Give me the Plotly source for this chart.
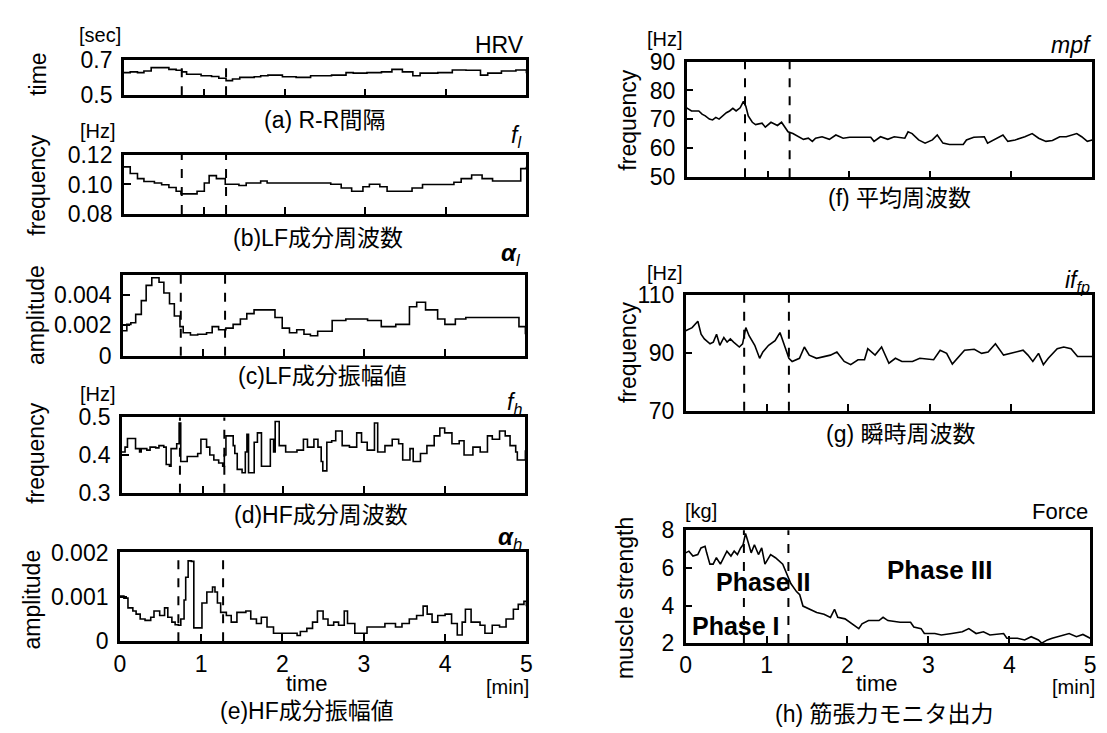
import plotly.graph_objects as go

W, H = 1107, 733
FONT = "Liberation Sans, Arial, Noto Sans CJK JP, sans-serif"

# ---------------- data (time in minutes) ----------------
t_a = [0,0.08,0.17,0.25,0.34,0.47,0.56,0.65,0.72,0.78,0.96,1.09,1.18,1.27,1.35,1.44,1.62,1.70,1.79,1.97,
       2.14,2.32,2.58,2.76,2.85,3.02,3.20,3.33,3.46,3.59,3.68,3.90,4.08,4.25,4.43,4.52,4.69,4.87,5.0]
rr_a = [0.627,0.631,0.627,0.636,0.655,0.655,0.645,0.640,0.631,0.618,0.609,0.605,0.595,0.582,0.591,0.600,0.604,0.609,0.613,0.604,
        0.600,0.609,0.613,0.627,0.624,0.627,0.631,0.645,0.631,0.609,0.624,0.627,0.642,0.640,0.613,0.624,0.636,0.642,0.624]

t_b = [0,0.08,0.17,0.25,0.38,0.47,0.56,0.65,0.71,0.82,0.91,1.0,1.06,1.15,1.26,1.43,1.52,1.70,1.78,2.05,
       2.57,2.70,2.83,2.97,3.05,3.18,3.27,3.49,3.58,3.71,4.10,4.19,4.32,4.45,4.58,4.85,4.93,5.0]
lf_freq = [0.112,0.1075,0.104,0.102,0.101,0.0998,0.098,0.0954,0.0936,0.0936,0.0954,0.101,0.106,0.104,0.1002,0.0993,0.101,0.1024,0.101,0.101,
           0.1002,0.0976,0.0954,0.0985,0.1002,0.0985,0.0954,0.0954,0.0976,0.100,0.1015,0.104,0.1064,0.104,0.1024,0.1024,0.1108,0.112]

t_c = [0,0.05,0.10,0.16,0.23,0.29,0.36,0.40,0.45,0.51,0.58,0.64,0.71,0.75,0.84,0.93,1.04,1.11,1.19,1.28,
       1.37,1.46,1.54,1.63,1.81,1.89,1.98,2.07,2.16,2.25,2.33,2.42,2.60,2.77,3.04,3.21,3.39,3.56,3.65,3.76,
       3.91,4.0,4.13,4.26,4.83,4.92,5.0]
lf_amp = [0.00163,0.00205,0.00215,0.0027,0.0036,0.0046,0.0051,0.0051,0.0048,0.0041,
          0.0034,0.0026,0.0019,0.0015,0.00135,0.0014,0.0015,0.0019,0.0017,0.0018,
          0.00205,0.0024,0.00275,0.0030,0.0030,0.0025,0.0018,0.0015,0.0017,0.0014,
          0.0013,0.0016,0.0023,0.0024,0.0023,0.0019,0.00205,0.0032,0.0035,0.0030,
          0.0024,0.00205,0.0024,0.0025,0.0025,0.0019,0.0014]

t_d = [0.00,0.04,0.07,0.15,0.17,0.22,0.24,0.31,0.35,0.42,0.46,0.52,0.55,0.59,0.61,0.68,0.71,0.73,0.81,0.94,
       0.98,1.05,1.09,1.14,1.20,1.25,1.27,1.29,1.38,1.40,1.43,1.49,1.53,1.55,1.57,1.64,1.68,1.73,1.82,1.84,
       1.88,1.90,1.95,2.03,2.17,2.25,2.30,2.38,2.43,2.47,2.49,2.54,2.60,2.65,2.73,2.82,2.91,2.97,3.04,3.13,
       3.17,3.26,3.35,3.43,3.48,3.57,3.61,3.70,3.78,3.87,3.94,4.00,4.09,4.18,4.24,4.35,4.44,4.53,4.59,4.68,
       4.75,4.81,4.88,4.90,4.97,5.0]
hf_freq = [0.408,0.421,0.444,0.444,0.417,0.408,0.417,0.413,0.421,0.419,0.425,0.421,0.375,0.370,0.417,0.430,0.485,0.383,0.396,0.404,
           0.442,0.421,0.400,0.387,0.379,0.370,0.400,0.451,0.425,0.404,0.362,0.353,0.408,0.455,0.353,0.434,0.459,0.370,0.370,0.442,
           0.408,0.489,0.425,0.408,0.413,0.442,0.421,0.442,0.421,0.383,0.358,0.434,0.438,0.464,0.425,0.421,0.459,0.434,0.413,0.485,
           0.408,0.425,0.442,0.430,0.387,0.417,0.383,0.404,0.425,0.451,0.472,0.459,0.430,0.438,0.400,0.421,0.408,0.451,0.442,0.464,
           0.451,0.425,0.408,0.387,0.387,0.413]

t_e = [0,0.05,0.10,0.16,0.20,0.25,0.31,0.38,0.42,0.49,0.55,0.59,0.64,0.68,0.72,0.75,0.79,0.81,0.84,0.88,
       0.91,0.96,1.01,1.07,1.14,1.17,1.20,1.24,1.31,1.37,1.44,1.55,1.61,1.68,1.74,1.81,1.89,2.13,2.18,2.22,
       2.30,2.37,2.43,2.50,2.56,2.63,2.69,2.76,2.80,2.89,3.04,3.26,3.39,3.47,3.56,3.65,3.73,3.78,3.84,3.91,
       4.00,4.08,4.15,4.21,4.25,4.32,4.43,4.49,4.58,4.67,4.75,4.84,4.90,4.97,5.0]
hf_amp = [0.00102,0.00097,0.00075,0.00068,0.00061,0.0005,0.00047,0.00054,0.00068,0.00058,
          0.00075,0.00054,0.00043,0.00037,0.00036,0.0005,0.00093,0.00144,0.00181,0.0018,
          0.0003,0.0003,0.00086,0.00111,0.00122,0.00111,0.00086,0.00065,0.00058,0.00043,
          0.00065,0.00068,0.0005,0.0004,0.00054,0.00032,0.00018,0.00018,0.00013,0.00022,
          0.00029,0.00043,0.00068,0.0005,0.00036,0.00043,0.00036,0.00068,0.0004,0.00018,
          0.00032,0.0004,0.00032,0.0004,0.0005,0.00058,0.00079,0.00061,0.00043,0.00058,
          0.00061,0.0004,0.00014,0.00043,0.00072,0.00043,0.00036,0.00018,0.00036,0.00032,
          0.0005,0.00072,0.00083,0.0009,0.00079]

t_f = [0,0.06,0.15,0.19,0.23,0.28,0.32,0.36,0.40,0.44,0.49,0.53,0.57,0.61,0.66,0.68,0.70,0.73,0.76,0.81,
       0.85,0.93,0.97,1.04,1.08,1.12,1.17,1.21,1.25,1.31,1.38,1.44,1.50,1.55,1.59,1.67,1.76,1.84,1.93,2.01,
       2.27,2.31,2.39,2.48,2.56,2.69,2.73,2.78,2.86,2.94,3.03,3.09,3.16,3.24,3.41,3.45,3.54,3.67,3.71,3.79,
       3.90,3.96,4.05,4.17,4.26,4.34,4.43,4.51,4.60,4.68,4.81,4.87,4.94,5.0]
mpf = [74.0,72.9,72.9,71.8,71.2,70.1,69.8,70.7,70.1,71.2,72.3,72.9,73.8,72.9,74.0,75.1,76.2,74.5,71.2,69.0,
       68.2,68.7,67.3,69.0,68.5,67.9,69.0,67.3,65.7,65.1,64.0,63.1,63.5,62.4,63.5,64.0,63.1,64.6,63.5,63.8,
       63.8,62.4,64.0,63.1,64.0,63.5,65.7,65.1,62.9,61.8,62.9,64.6,61.8,61.3,61.3,62.9,63.8,64.0,61.8,62.9,
       64.6,62.4,62.9,64.0,65.1,63.5,62.4,62.7,64.0,64.0,65.1,64.0,62.4,62.9]

t_g = [0,0.04,0.08,0.15,0.19,0.23,0.30,0.34,0.38,0.42,0.47,0.51,0.55,0.59,0.66,0.70,0.74,0.78,0.85,0.91,
       0.95,1.02,1.10,1.16,1.21,1.27,1.31,1.40,1.46,1.52,1.61,1.78,1.86,1.95,2.03,2.12,2.20,2.24,2.33,2.41,
       2.50,2.58,2.66,2.79,2.88,3.05,3.13,3.21,3.28,3.34,3.43,3.55,3.64,3.72,3.81,3.91,4.06,4.15,4.21,4.27,
       4.34,4.40,4.46,4.57,4.65,4.74,4.82,4.91,5.0]
iffp = [97.6,98.1,98.7,100.9,96.4,94.8,93.1,93.7,96.4,92.6,95.3,93.7,94.8,93.7,92.0,93.1,98.7,95.9,92.6,88.1,
        90.3,92.6,94.2,97.0,92.6,88.1,87.0,88.1,92.0,89.2,88.1,89.2,90.3,87.0,85.9,87.6,87.6,91.4,89.2,92.0,
        86.4,88.1,87.0,87.0,88.1,87.6,90.9,89.8,86.1,88.1,90.9,91.2,89.8,90.3,93.1,89.2,90.3,90.9,89.2,87.0,
        89.8,85.9,88.1,91.4,92.0,91.4,88.7,88.7,88.7]

t_h = [0,0.04,0.09,0.15,0.19,0.24,0.26,0.30,0.34,0.38,0.43,0.47,0.51,0.56,0.60,0.64,0.68,0.71,0.74,0.77,
       0.81,0.85,0.90,0.94,0.98,1.05,1.11,1.20,1.24,1.30,1.37,1.41,1.45,1.54,1.62,1.71,1.79,1.84,1.88,1.97,
       2.05,2.14,2.18,2.26,2.39,2.44,2.50,2.65,2.78,2.82,2.91,2.95,3.08,3.16,3.29,3.42,3.50,3.59,3.68,3.76,
       3.93,3.97,4.10,4.19,4.27,4.36,4.40,4.47,4.53,4.66,4.74,4.83,4.91,5.0]
force = [6.8,6.89,6.63,6.71,7.06,7.15,6.8,6.2,6.2,6.54,6.2,6.54,6.89,6.63,6.89,6.71,7.06,7.23,7.83,7.4,
         6.8,7.23,6.71,7.06,6.2,6.71,6.54,6.2,5.77,5.17,4.74,4.57,3.97,3.8,3.63,3.54,3.37,3.8,3.37,3.29,
         3.03,2.77,3.03,3.2,3.2,3.37,3.2,3.11,3.11,2.86,2.77,2.51,2.51,2.43,2.51,2.6,2.77,2.51,2.6,2.43,
         2.51,2.26,2.26,2.17,2.34,2.17,2.0,2.17,2.26,2.43,2.51,2.34,2.46,2.26]

phase_bounds = [0.72, 1.27]
x_ticks = [0, 1, 2, 3, 4, 5]

# ---------------- panel definitions ----------------
panels = [
    (t_a, rr_a, "hv", [0.5, 0.7], [0.5, 0.7], ["0.5", "0.7"], (111, 518, 40, 77), False),
    (t_b, lf_freq, "hv", [0.08, 0.12], [0.08, 0.10, 0.12], ["0.08", "0.10", "0.12"], (111, 518, 139, 200), False),
    (t_c, lf_amp, "hv", [0, 0.0053], [0, 0.002, 0.004], ["0", "0.002", "0.004"], (110, 517, 263, 347), False),
    (t_d, hf_freq, "hv", [0.3, 0.5], [0.3, 0.4, 0.5], ["0.3", "0.4", "0.5"], (109, 517, 411, 489), False),
    (t_e, hf_amp, "hv", [0, 0.002], [0, 0.001, 0.002], ["0", "0.001", "0.002"], (107, 518, 551, 643), True),
    (t_f, mpf, "linear", [50, 90], [50, 60, 70, 80, 90], ["50", "60", "70", "80", "90"], (680, 1090, 42, 162), False),
    (t_g, iffp, "linear", [70, 110], [70, 90, 110], ["70", "90", "110"], (679, 1090, 284, 404), False),
    (t_h, force, "linear", [2, 8], [2, 4, 6, 8], ["2", "4", "6", "8"], (679, 1088, 528, 645), True),
]

fig = go.Figure()
layout = dict(
    width=W, height=H, margin=dict(l=0, r=0, t=0, b=0),
    paper_bgcolor="white", plot_bgcolor="white", showlegend=False,
    font=dict(family=FONT, color="black", size=20),
)
shapes = []
for i, (xs, ys, shape, yr, tv, tt, box, xlab) in enumerate(panels, start=1):
    l, r, tp, bt = box
    sfx = "" if i == 1 else str(i)
    fig.add_trace(go.Scatter(x=xs, y=ys, mode="lines", line=dict(color="black", width=1.6, shape=shape),
                             xaxis="x" + sfx, yaxis="y" + sfx, hoverinfo="skip"))
    layout["xaxis" + sfx] = dict(
        domain=[l / W, r / W], range=[0, 5], anchor="y" + sfx,
        showline=True, mirror=True, linecolor="black", linewidth=2.5,
        ticks="inside", ticklen=7, tickwidth=2, tickcolor="black",
        tickvals=x_ticks if xlab else [1, 2, 3, 4], showticklabels=xlab,
        tickfont=dict(size=23), showgrid=False, zeroline=False,
    )
    layout["yaxis" + sfx] = dict(
        domain=[1 - bt / H, 1 - tp / H], range=yr, anchor="x" + sfx,
        showline=True, mirror=True, linecolor="black", linewidth=2.5,
        ticks="inside", ticklen=7, tickwidth=2, tickcolor="black",
        tickvals=tv, ticktext=tt, tickfont=dict(size=23), ticklabelstandoff=4,
        showgrid=False, zeroline=False,
    )
    for xb in phase_bounds:
        shapes.append(dict(type="line", xref="x" + sfx, yref="y" + sfx + " domain",
                           x0=xb, x1=xb, y0=0, y1=1,
                           line=dict(color="black", width=2, dash="dash")))
layout["shapes"] = shapes

anns = []
def ann(text, x, y, size=22, xa="center", ya="middle", angle=0):
    anns.append(dict(text=text, x=x / W, y=1 - y / H, xref="paper", yref="paper",
                     xanchor=xa, yanchor=ya, showarrow=False, textangle=angle,
                     font=dict(size=size, family=FONT, color="black")))

# y-axis titles
ann("time", 24, 55, 23, angle=-90)
ann("frequency", 23, 170, 23, angle=-90)
ann("amplitude", 22, 305, 23, angle=-90)
ann("frequency", 22, 448, 23, angle=-90)
ann("amplitude", 18, 600, 23, angle=-90)
ann("frequency", 621, 102, 23, angle=-90)
ann("frequency", 621, 343, 23, angle=-90)
ann("muscle strength", 617, 598, 23, angle=-90)
# units
ann("[sec]", 64, 15, 20, xa="left")
ann("[Hz]", 65, 114, 20, xa="left")
ann("[Hz]", 65, 387, 20, xa="left")
ann("[Hz]", 638, 19, 20, xa="left")
ann("[Hz]", 638, 261, 20, xa="left")
ann("[kg]", 676, 508, 20, xa="left")
# series names
ann("HRV", 518, 25, 23, xa="right")
ann("<i>f</i><sub><i>l</i></sub>", 515, 120, 23, xa="right")
ann("<b><i>α</i></b><sub><i>l</i></sub>", 515, 242, 24, xa="right")
ann("<i>f</i><sub><i>h</i></sub>", 516, 397, 23, xa="right")
ann("<b><i>α</i></b><sub><i>h</i></sub>", 516, 537, 24, xa="right")
ann("<i>mpf</i>", 1092, 25, 23, xa="right")
ann("<i>if</i><sub><i>fp</i></sub>", 1090, 270, 23, xa="right")
ann("Force", 1088, 509, 22, xa="right")
# captions
ann("(a) R-R間隔", 314, 103, 23)
ann("(b)LF成分周波数", 307, 225, 23)
ann("(c)LF成分振幅値", 312, 368, 23)
ann("(d)HF成分周波数", 310, 512, 23)
ann("(e)HF成分振幅値", 296, 715, 23)
ann("(f) 平均周波数", 895, 184, 23)
ann("(g) 瞬時周波数", 897, 428, 23)
ann("(h) 筋張力モニタ出力", 880, 718, 23)
# x titles
ann("time", 296, 687, 22)
ann("[min]", 499, 690, 20)
ann("time", 872, 687, 22)
ann("[min]", 1071, 690, 20)
# phase labels
ann("<b>Phase I</b>", 683, 627, 25, xa="left")
ann("<b>Phase II</b>", 708, 582, 25, xa="left")
ann("<b>Phase III</b>", 881, 569, 26, xa="left")
layout["annotations"] = anns

fig.update_layout(**layout)
fig.write_html("out.html")
